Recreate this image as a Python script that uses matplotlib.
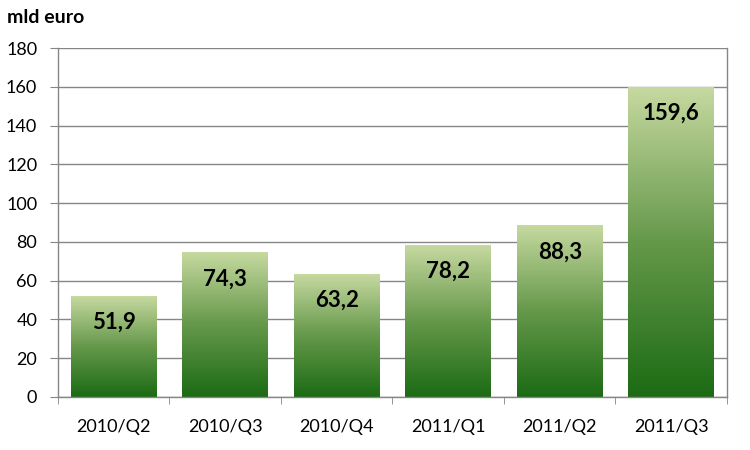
import numpy as np
import matplotlib.pyplot as plt
from matplotlib.colors import LinearSegmentedColormap

### data
quarters = ['2010/Q2', '2010/Q3', '2010/Q4', '2011/Q1', '2011/Q2', '2011/Q3']
values = [51.9, 74.3, 63.2, 78.2, 88.3, 159.6]
value_labels = ['51,9', '74,3', '63,2', '78,2', '88,3', '159,6']

plt.rcParams['font.family'] = ['Lato', 'DejaVu Sans']

fig = plt.figure(figsize=(7.5, 4.5), dpi=100)
ax = fig.add_axes([0.0773, 0.1178, 0.8920, 0.7755])

# gradient: light green at top, dark green at bottom
cmap = LinearSegmentedColormap.from_list('grn', ['#1c6b14', '#65984a', '#c6d9a0'])
grad = np.linspace(0, 1, 256).reshape(-1, 1)

bar_w = 0.77
x = np.arange(len(quarters))
bars = ax.bar(x, values, width=bar_w, color='none', edgecolor='none', zorder=2)
for b in bars:
    x0, y0 = b.get_x(), b.get_y()
    ax.imshow(grad, cmap=cmap, aspect='auto', origin='lower',
              extent=[x0, x0 + b.get_width(), y0, y0 + b.get_height()], zorder=2)

for xi, v, lab in zip(x, values, value_labels):
    ax.annotate(lab, (xi, v), xytext=(0, -26), textcoords='offset pixels',
                ha='center', va='center', fontsize=16, fontweight='bold', color='black', zorder=3)

ax.set_xlim(-0.5, len(quarters) - 0.5)
ax.set_ylim(0, 180)
ax.set_yticks(np.arange(0, 181, 20))
ax.set_xticks(x)
ax.set_xticklabels(quarters)
ax.set_xticks(np.arange(-0.5, len(quarters)), minor=True)

ax.grid(axis='y', color='#868686', linewidth=1, zorder=0)
ax.set_axisbelow(True)
ax.spines['top'].set_visible(False)
for s in ['left', 'right', 'bottom']:
    ax.spines[s].set_color('#868686')
    ax.spines[s].set_linewidth(1)

ax.tick_params(axis='y', length=6, color='#868686', pad=9, labelsize=13)
ax.tick_params(axis='x', which='major', length=0, pad=16, labelsize=13)
ax.tick_params(axis='x', which='minor', length=5, color='#868686')

fig.text(0.009, 0.962, 'mld euro', fontsize=14, fontweight='bold', ha='left', va='center')

fig.savefig('out.png', dpi=100)
